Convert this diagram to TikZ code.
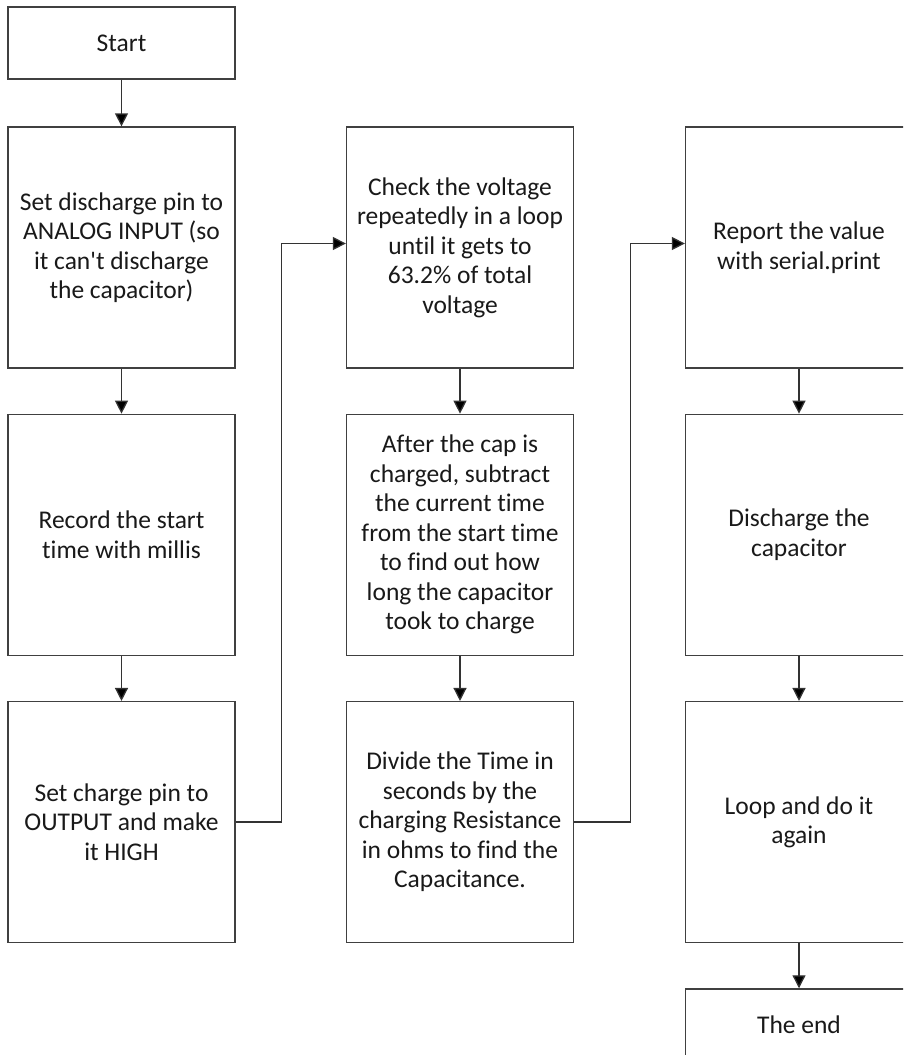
\documentclass[tikz,border=0pt]{standalone}
\usepackage{fontspec}
\setmainfont{Carlito}[Ligatures=NoCommon]
\usetikzlibrary{arrows.meta,positioning}

\begin{document}
\begin{tikzpicture}[
    x=1pt,y=-1pt,
    box/.style={draw=black!75,line width=1.3pt,fill=white,align=center,
      minimum width=227pt,minimum height=241pt,inner sep=0pt,
      font=\fontsize{25.5}{29.5}\selectfont,text=black!90},
    small/.style={box,minimum height=72pt},
    flow/.style={draw=black!80,line width=1.3pt,
      -{Triangle[length=13pt,width=13pt,fill=black]}},
    node distance=45pt
    ]
    \useasboundingbox (0,0) rectangle (903,1055);
    \fill[white] (0,0) rectangle (903,1055);
    \clip (0,0) rectangle (903,1055);

    % first column
    \node[small] (start) at (121.5,43) {Start};
    \node[box] (discharge) at (121.5,247.5) {Set discharge pin to\\ANALOG INPUT (so\\it can\textquotesingle t discharge\\the capacitor)};
    \node[box] (record) [below=of discharge] {Record the start\\time with millis};
    \node[box] (charge) [below=of record] {Set charge pin to\\OUTPUT and make\\it HIGH};

    % second column
    \node[box] (check) at (460,247.5) {Check the voltage\\repeatedly in a loop\\until it gets to\\63.2\% of total\\voltage};
    \node[box] (subtract) [below=of check] {After the cap is\\charged, subtract\\the current time\\from the start time\\to find out how\\long the capacitor\\took to charge};
    \node[box] (divide) [below=of subtract] {Divide the Time in\\seconds by the\\charging Resistance\\in ohms to find the\\Capacitance.};

    % third column
    \node[box] (report) at (799,247.5) {Report the value\\with serial.print};
    \node[box] (empty) [below=of report] {Discharge the\\capacitor};
    \node[box] (again) [below=of empty] {Loop and do it\\again};
    \node[small] (end) [below=of again] {The end};

    \draw[flow] (start) -- (discharge);
    \draw[flow] (discharge) -- (record);
    \draw[flow] (record) -- (charge);
    \draw[flow] (charge.east) -- ++(46,0) |- ([yshift=4pt]check.west);
    \draw[flow] (check) -- (subtract);
    \draw[flow] (subtract) -- (divide);
    \draw[flow] (divide.east) -- ++(56,0) |- ([yshift=4pt]report.west);
    \draw[flow] (report) -- (empty);
    \draw[flow] (empty) -- (again);
    \draw[flow] (again) -- (end);
\end{tikzpicture}
\end{document}
